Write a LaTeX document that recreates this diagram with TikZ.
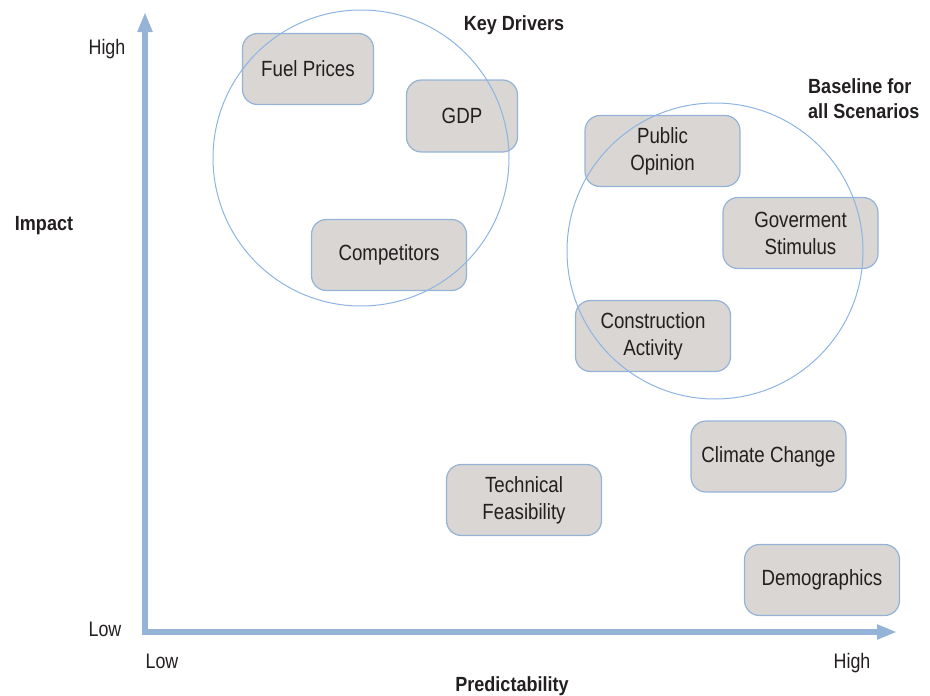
\documentclass[tikz,border=0pt]{standalone}
\usepackage{fontspec}
\setmainfont{Liberation Sans}[FakeStretch=0.85]
\newfontfamily\lblfont{Liberation Sans}[FakeStretch=0.88]
\usetikzlibrary{arrows.meta}
\definecolor{axisblue}{RGB}{149,179,215}
\definecolor{ringblue}{RGB}{141,180,226}
\definecolor{boxfill}{RGB}{217,214,211}
\definecolor{txt}{RGB}{35,31,32}
\begin{document}
\begin{tikzpicture}[x=1pt,y=-1pt, text=txt,
  font=\fontsize{22}{27}\selectfont,
  factor/.style={draw=axisblue, line width=1.2pt, fill=boxfill, rounded corners=15pt,
    minimum width=155pt, minimum height=71pt, inner sep=0pt, align=center},
  ring/.style={circle, draw=ringblue, line width=1pt, minimum size=296pt, inner sep=0pt},
  axislbl/.style={anchor=base, inner sep=0pt, font=\fontsize{21}{25}\selectfont},
  title/.style={inner sep=0pt, font=\lblfont\bfseries\fontsize{20.5}{25.7}\selectfont}]
\useasboundingbox (0,0) rectangle (930,696);

% axes
\coordinate (ytip) at (145,12);
\coordinate (origin) at (145,632);
\coordinate (xtip) at (897,632);
\draw[draw=axisblue, line width=6pt,
  {Triangle[length=20pt,width=14pt]}-{Triangle[length=20pt,width=14pt]}]
  (ytip) -- (origin) -- (xtip);

% factor boxes
\node[factor, minimum width=131pt] (fuel) at (308,69) {Fuel Prices};
\node[factor, minimum width=111pt, minimum height=72pt] (gdp) at (462,116) {GDP};
\node[factor] (comp) at (389,255) {Competitors};
\node[factor] (pub) at (662.5,151) {Public\\Opinion};
\node[factor] (gov) at (800.5,233) {Goverment\\Stimulus};
\node[factor] (cons) at (653,336) {Construction\\Activity};
\node[factor] (tech) at (524,500) {Technical\\Feasibility};
\node[factor] (clim) at (768.5,456.5) {Climate Change};
\node[factor] (demo) at (822,580) {Demographics};

% rings
\node[ring] (kd) at (361,158) {};
\node[ring] (base) at (715,251) {};

% labels
\node[title, anchor=base] (kdl) at (514,30.5) {Key Drivers};
\node[title, anchor=north west, align=left] (bl) at (808,78) {Baseline for\\all Scenarios};
\node[title, anchor=base] (imp) at (44,230) {Impact};
\node[title, anchor=base] (pred) at (512,691) {Predictability};
\node[axislbl] (yhigh) at (107,54) {High};
\node[axislbl] (ylow) at (105,636) {Low};
\node[axislbl] (xlow) at (162,668) {Low};
\node[axislbl] (xhigh) at (852,668) {High};
\end{tikzpicture}
\end{document}
